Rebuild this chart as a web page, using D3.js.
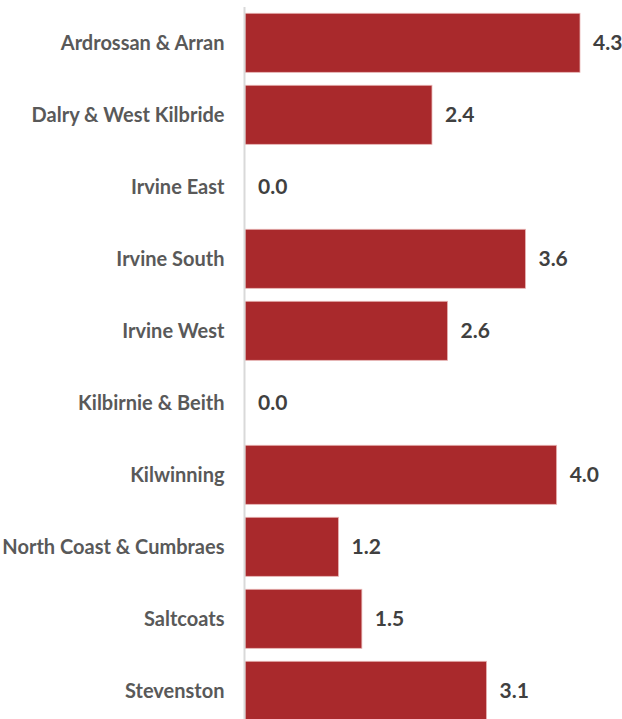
<!DOCTYPE html>
<html>
<head>
<meta charset="utf-8">
<script src="https://cdn.jsdelivr.net/npm/d3@7"></script>
<style>
  html, body { margin: 0; padding: 0; background: #fff; }
  svg { display: block; }
</style>
</head>
<body>
<svg id="chart" width="622" height="719"></svg>
<script>
const categories = [
  "Ardrossan & Arran",
  "Dalry & West Kilbride",
  "Irvine East",
  "Irvine South",
  "Irvine West",
  "Kilbirnie & Beith",
  "Kilwinning",
  "North Coast & Cumbraes",
  "Saltcoats",
  "Stevenston"
];
const values = [4.3, 2.4, 0.0, 3.6, 2.6, 0.0, 4.0, 1.2, 1.5, 3.1];

const svg = d3.select("#chart");
const x0 = 245;

const y = d3.scaleBand()
  .domain(categories)
  .range([6.8, 726.8])
  .paddingInner(0.18)
  .paddingOuter(0.09);

const x = d3.scaleLinear()
  .domain([0, 4.3])
  .range([x0, 580]);

const data = categories.map((c, i) => ({ c, v: values[i] }));

// bars
svg.append("g").selectAll("rect")
  .data(data)
  .join("rect")
  .attr("x", x(0))
  .attr("y", d => y(d.c))
  .attr("width", d => x(d.v) - x(0))
  .attr("height", y.bandwidth())
  .attr("fill", "#A9292C")
  .attr("stroke", d => d.v > 0 ? "#e8b4b4" : "none")
  .attr("stroke-width", 0.8);

// axis line
const yAxis = d3.axisLeft(y).tickSize(0).tickPadding(20);
const ag = svg.append("g")
  .attr("transform", `translate(${x0 - 0.5},0)`)
  .call(yAxis);
ag.select(".domain")
  .attr("d", `M0,7V719`)
  .attr("stroke", "#d9d9d9")
  .attr("stroke-width", 2);
ag.selectAll(".tick text")
  .attr("fill", "#595959")
  .attr("font-family", "Lato, 'Open Sans', sans-serif")
  .attr("font-weight", "bold")
  .attr("font-size", 20)
  .attr("dy", "0.35em");

// value labels
svg.append("g").selectAll("text")
  .data(data)
  .join("text")
  .attr("x", d => x(d.v) + 13)
  .attr("y", d => y(d.c) + y.bandwidth() / 2)
  .attr("dy", "0.35em")
  .attr("fill", "#404040")
  .attr("font-family", "Lato, 'Open Sans', sans-serif")
  .attr("font-weight", "bold")
  .attr("font-size", 21)
  .text(d => d3.format(".1f")(d.v));
</script>
</body>
</html>
